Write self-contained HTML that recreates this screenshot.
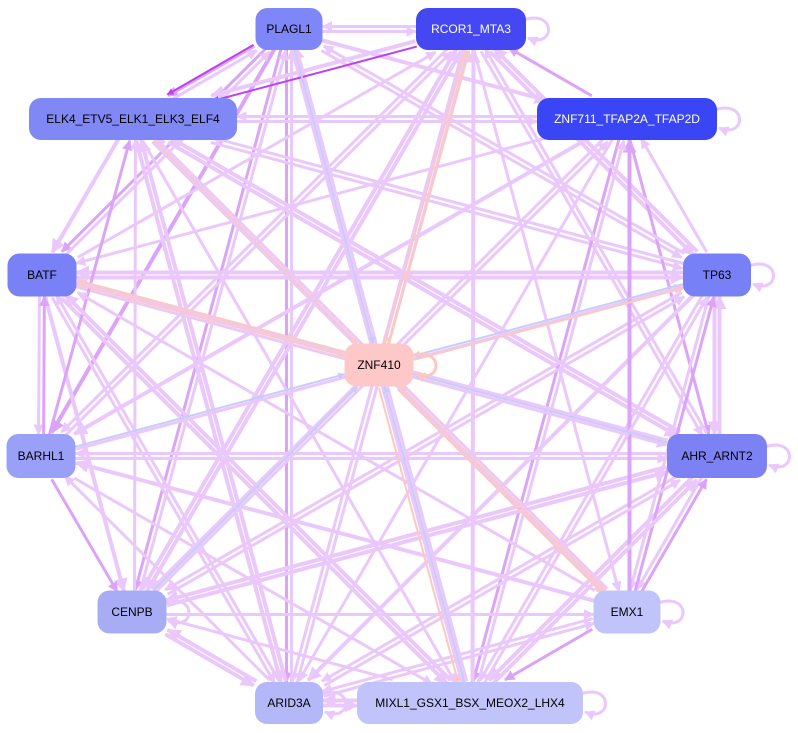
<!DOCTYPE html>
<html><head><meta charset="utf-8"><style>
body{margin:0;background:#fff;width:798px;height:733px;overflow:hidden}
svg{display:block}
text{font-family:"Liberation Sans",sans-serif;font-size:12px;text-anchor:middle;dominant-baseline:central}
</style></head><body>
<svg id="s" width="798" height="733" xmlns="http://www.w3.org/2000/svg">
<defs></defs>
<g id="e"></g><g id="n"></g>
</svg>
<script>
const N={
PLAGL1:[289,29,67,42,'#7f87f8','#000'],
RCOR1_MTA3:[471,29,110,42,'#4447f2','#fff'],
ELK4_ETV5_ELK1_ELK3_ELF4:[133,119,208,42,'#8088f6','#000'],
ZNF711_TFAP2A_TFAP2D:[627,119,180,42,'#3a45f5','#fff'],
BATF:[42,275,69,43,'#7a80f5','#000'],
TP63:[717,275,68,43,'#7880f8','#000'],
ZNF410:[379,365,69,43,'#ffc8c8','#000'],
BARHL1:[41,456,69,44,'#9aa0f8','#000'],
AHR_ARNT2:[717,456,100,44,'#7c82f4','#000'],
CENPB:[132,612,69,43,'#a8acf5','#000'],
EMX1:[627,612,67,43,'#c0c4fa','#000'],
ARID3A:[289,703,68,42,'#b4b8f8','#000'],
MIXL1_GSX1_BSX_MEOX2_LHX4:[470,703,226,42,'#c0c4fa','#000']};
const ns='http://www.w3.org/2000/svg';
const E=document.getElementById('e'),G=document.getElementById('n'),D=document.querySelector('defs');
const cols={L:'#ebc8fb',M:'#dca4f8',P:'#c040f0',B:'#c8ccf8',R:'#fcc8c0'};
for(const k in cols){const m=document.createElementNS(ns,'marker');m.setAttribute('id','m'+k);m.setAttribute('viewBox','0 0 10 10');m.setAttribute('refX','9');m.setAttribute('refY','5');m.setAttribute('markerWidth','3.5');m.setAttribute('markerHeight','3.5');m.setAttribute('orient','auto');m.setAttribute('markerUnits','strokeWidth');m.innerHTML='<path d="M0,0L10,5L0,10z" fill="'+cols[k]+'"/>';D.appendChild(m);}
function edge(a,b,c,w,off){const A=N[a],B=N[b];let dx=B[0]-A[0],dy=B[1]-A[1];const L=Math.hypot(dx,dy);const px=-dy/L*off,py=dx/L*off;
function clip(n,sx,sy){const hw=n[2]/2,hh=n[3]/2;return Math.min(Math.abs(sx)>0?hw/Math.abs(sx):1e9,Math.abs(sy)>0?hh/Math.abs(sy):1e9);}
const t1=clip(A,dx,dy),t2=clip(B,dx,dy);
const x1=A[0]+dx*t1+px,y1=A[1]+dy*t1+py,x2=B[0]-dx*t2+px,y2=B[1]-dy*t2+py;
const l=document.createElementNS(ns,'line');l.setAttribute('x1',x1);l.setAttribute('y1',y1);l.setAttribute('x2',x2);l.setAttribute('y2',y2);l.setAttribute('stroke',cols[c]);l.setAttribute('stroke-width',w);l.setAttribute('marker-end','url(#m'+c+')');E.appendChild(l);}
const keys=Object.keys(N).filter(k=>k!='ZNF410');
for(let i=0;i<keys.length;i++)for(let j=0;j<keys.length;j++){if(i==j)continue;
 if((i*5+j*11)%7==0||(i*3+j*2)%9==0)continue;
 const c=((i*7+j*3)%6==0)?'M':'L';edge(keys[i],keys[j],c,(i+j)%3==0?4:3,2.5);}
edge('PLAGL1','ELK4_ETV5_ELK1_ELK3_ELF4','P',2,4);
edge('RCOR1_MTA3','ELK4_ETV5_ELK1_ELK3_ELF4','P',2,-3);
[['PLAGL1','B'],['RCOR1_MTA3','R'],['ELK4_ETV5_ELK1_ELK3_ELF4','R'],['BATF','R'],['TP63','B'],['AHR_ARNT2','B'],['BARHL1','B'],['CENPB','B'],['EMX1','R'],['MIXL1_GSX1_BSX_MEOX2_LHX4','B']].forEach(p=>edge(p[0],'ZNF410',p[1],2,0));
edge('ZNF410','RCOR1_MTA3','R',2,4);edge('ZNF410','TP63','R',2,4);edge('ZNF410','MIXL1_GSX1_BSX_MEOX2_LHX4','R',2,6);edge('ZNF410','EMX1','R',2,4);edge('ZNF410','BATF','R',2,4);
for(const k in N){const n=N[k];if(k=='ELK4_ETV5_ELK1_ELK3_ELF4'||k=='BATF'||k=='BARHL1'||k=='PLAGL1')continue;
 const x=n[0]+n[2]/2,y=n[1];const p=document.createElementNS(ns,'path');p.setAttribute('d',`M${x-2},${y-9} C${x+30},${y-20} ${x+30},${y+20} ${x+2},${y+9}`);p.setAttribute('fill','none');p.setAttribute('stroke',k=='ZNF410'?cols.R:cols.L);p.setAttribute('stroke-width',3);p.setAttribute('marker-end','url(#m'+(k=='ZNF410'?'R':'L')+')');E.appendChild(p);}
for(const k in N){const n=N[k];const r=document.createElementNS(ns,'rect');r.setAttribute('x',n[0]-n[2]/2);r.setAttribute('y',n[1]-n[3]/2);r.setAttribute('width',n[2]);r.setAttribute('height',n[3]);r.setAttribute('rx',12);r.setAttribute('fill',n[4]);G.appendChild(r);
 const t=document.createElementNS(ns,'text');t.setAttribute('x',n[0]);t.setAttribute('y',n[1]);t.setAttribute('fill',n[5]);t.textContent=k;G.appendChild(t);}
</script>
</body></html>
